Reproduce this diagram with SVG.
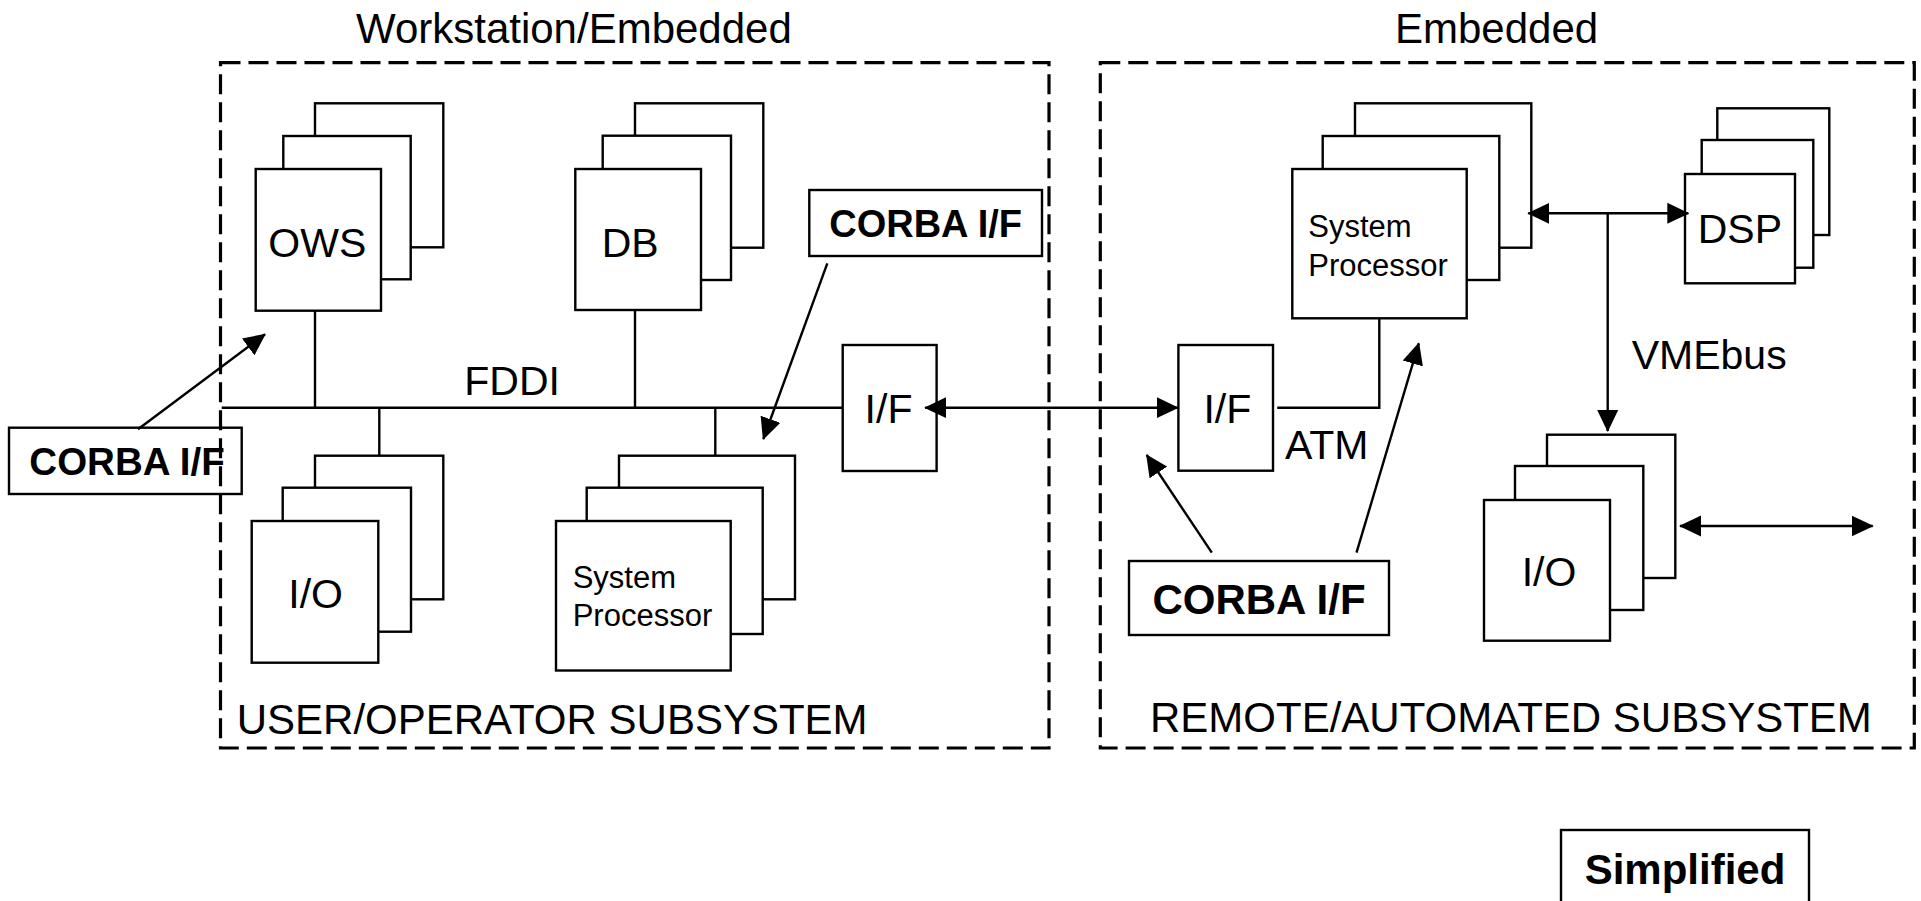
<svg xmlns="http://www.w3.org/2000/svg" width="1921" height="901" viewBox="0 0 1921 901">
<style>
text{font-family:"Liberation Sans",Arial,Helvetica,sans-serif;fill:#000}
.lbl{font-size:41px}
.big{font-size:42px}
.sp{font-size:31px}
.cb{font-weight:bold}
.card{fill:#fff;stroke:#000;stroke-width:2.4}
.box{fill:#fff;stroke:#000;stroke-width:2.4}
.dash{fill:none;stroke:#000;stroke-width:3.2;stroke-dasharray:20 8}
.ln{fill:none;stroke:#000;stroke-width:2.4}
</style>
<defs>
<marker id="ah" markerUnits="userSpaceOnUse" markerWidth="22" markerHeight="22" refX="21" refY="10.5" viewBox="0 0 22 21" orient="auto-start-reverse"><path d="M0,0 L22,10.5 L0,21 z" fill="#000"/></marker>
</defs>
<rect width="1921" height="901" fill="#fff"/>

<g id="titles">
<text class="big" x="356" y="43">Workstation/Embedded</text>
<text class="big" x="1395" y="43">Embedded</text>
</g>

<g id="ows">
<rect class="card" x="315" y="103.3" width="128.3" height="144"/>
<rect class="card" x="283.3" y="136" width="127.4" height="143.3"/>
<rect class="card" x="255.7" y="169" width="125.3" height="141.7"/>
<text class="lbl" x="268.3" y="256.7">OWS</text>
</g>

<g id="db">
<rect class="card" x="635" y="103.3" width="128.3" height="144.4"/>
<rect class="card" x="602.7" y="135.7" width="128.3" height="144.3"/>
<rect class="card" x="575.3" y="169" width="125.7" height="141"/>
<text class="lbl" x="601.7" y="256.7">DB</text>
</g>

<g id="io-left">
<rect class="card" x="315" y="455.7" width="128.3" height="143.6"/>
<rect class="card" x="282.7" y="487.7" width="128.3" height="144"/>
<rect class="card" x="251.7" y="521" width="126.6" height="141.7"/>
<text class="lbl" x="288.3" y="607.7">I/O</text>
</g>

<g id="sysproc-left">
<rect class="card" x="619" y="455.7" width="176" height="143.6"/>
<rect class="card" x="586.7" y="487.7" width="176" height="146.3"/>
<rect class="card" x="556" y="521" width="174.7" height="149.5"/>
<text class="sp" x="572.7" y="588.3">System</text>
<text class="sp" x="572.7" y="626">Processor</text>
</g>

<g id="if-left">
<rect class="box" x="842.7" y="345" width="93.9" height="126"/>
<text class="lbl" x="864.6" y="422.7">I/F</text>
</g>

<g id="if-right">
<rect class="box" x="1178.4" y="345" width="94.6" height="125.7"/>
<text class="lbl" x="1203.4" y="422.7">I/F</text>
</g>

<g id="sysproc-right">
<rect class="card" x="1355" y="103.3" width="176.3" height="144.4"/>
<rect class="card" x="1322.7" y="136" width="176.6" height="144"/>
<rect class="card" x="1292.3" y="169" width="174.4" height="149.3"/>
<text class="sp" x="1308.3" y="236.7">System</text>
<text class="sp" x="1308.3" y="276">Processor</text>
</g>

<g id="dsp">
<rect class="card" x="1717.3" y="108.3" width="112" height="126.7"/>
<rect class="card" x="1701.7" y="140" width="111.6" height="127.7"/>
<rect class="card" x="1685" y="174" width="110" height="109.3"/>
<text class="lbl" x="1697.7" y="243.3">DSP</text>
</g>

<g id="io-right">
<rect class="card" x="1547" y="434.7" width="128.3" height="143.3"/>
<rect class="card" x="1515" y="466" width="128.3" height="144"/>
<rect class="card" x="1484" y="500" width="126" height="140.7"/>
<text class="lbl" x="1521.7" y="585.7">I/O</text>
</g>

<g id="corba-top">
<rect class="box" x="809.3" y="190" width="232.7" height="66"/>
<text class="cb" font-size="38" x="925.6" y="237" text-anchor="middle">CORBA I/F</text>
</g>

<g id="corba-right">
<rect class="box" x="1129" y="561" width="260" height="74"/>
<text class="cb" font-size="42" x="1259" y="614" text-anchor="middle">CORBA I/F</text>
</g>

<g id="corba-left">
<rect class="box" x="9" y="427.7" width="232.7" height="66.3"/>
<text class="cb" font-size="38.5" x="127" y="474.5" text-anchor="middle">CORBA I/F</text>
</g>

<g id="subsystems">
<rect class="dash" x="220.5" y="62.7" width="828.5" height="685.3"/>
<rect class="dash" x="1100.3" y="62.7" width="814" height="685.3"/>
<text class="big" x="236.7" y="734">USER/OPERATOR SUBSYSTEM</text>
<text class="big" x="1150" y="732">REMOTE/AUTOMATED SUBSYSTEM</text>
</g>

<g id="connectors">
<line class="ln" x1="221.7" y1="407.7" x2="842.7" y2="407.7"/>
<line class="ln" x1="315" y1="310.7" x2="315" y2="407.7"/>
<line class="ln" x1="635" y1="310" x2="635" y2="407.7"/>
<line class="ln" x1="379.3" y1="407.7" x2="379.3" y2="455.7"/>
<line class="ln" x1="715.3" y1="407.7" x2="715.3" y2="455.7"/>
<line class="ln" x1="925.2" y1="407.7" x2="1177.7" y2="407.7" marker-start="url(#ah)" marker-end="url(#ah)"/>
<polyline class="ln" points="1277.2,407.7 1379.3,407.7 1379.3,318.3"/>
<line class="ln" x1="1528.3" y1="213.3" x2="1688.3" y2="213.3" marker-start="url(#ah)" marker-end="url(#ah)"/>
<line class="ln" x1="1607.7" y1="213.3" x2="1607.7" y2="431" marker-end="url(#ah)"/>
<line class="ln" x1="1680" y1="526" x2="1872.7" y2="526" marker-start="url(#ah)" marker-end="url(#ah)"/>
<line class="ln" x1="138" y1="429.3" x2="265" y2="334.3" marker-end="url(#ah)"/>
<line class="ln" x1="827.3" y1="263.3" x2="763.3" y2="439" marker-end="url(#ah)"/>
<line class="ln" x1="1211.8" y1="552.7" x2="1146.7" y2="455" marker-end="url(#ah)"/>
<line class="ln" x1="1356.5" y1="552.7" x2="1418.8" y2="343.3" marker-end="url(#ah)"/>
</g>

<g id="labels">
<text class="lbl" x="464.3" y="395">FDDI</text>
<text class="lbl" x="1284.9" y="459.3">ATM</text>
<text class="lbl" x="1631.7" y="369">VMEbus</text>
</g>

<g id="simplified">
<rect class="box" x="1561" y="830" width="248" height="90"/>
<text class="cb" font-size="42" x="1685" y="884" text-anchor="middle">Simplified</text>
</g>
</svg>
